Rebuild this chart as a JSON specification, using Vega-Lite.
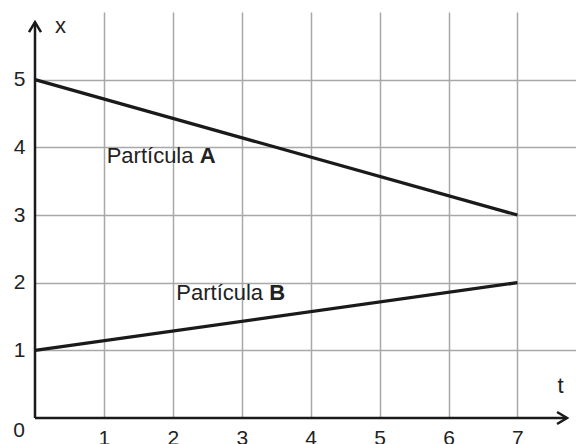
{
  "$schema": "https://vega.github.io/schema/vega-lite/v6.json",
  "width": 541,
  "height": 406,
  "autosize": {"type": "none"},
  "padding": {"left": 35, "top": 12, "right": 0, "bottom": 26},
  "background": "white",
  "config": {
    "view": {"stroke": null},
    "font": "Liberation Sans",
    "axis": {"labelFont": "Liberation Sans"}
  },
  "datasets": {
    "lines": [
      {"particula": "A", "t": 0, "x": 5},
      {"particula": "A", "t": 7, "x": 3},
      {"particula": "B", "t": 0, "x": 1},
      {"particula": "B", "t": 7, "x": 2}
    ],
    "labels": [
      {"particula": "A", "text": "Partícula", "t": 1.04, "x": 3.77},
      {"particula": "B", "text": "Partícula", "t": 2.05, "x": 1.74}
    ],
    "axislines": [
      {"axis": "x", "t0": 0, "x0": 0, "t1": 7.72, "x1": 0},
      {"axis": "y", "t0": 0, "x0": 0, "t1": 0, "x1": 5.85}
    ],
    "titles": [
      {"name": "x", "t": 0.29, "x": 5.69},
      {"name": "t", "t": 7.58, "x": 0.37}
    ],
    "origin": [
      {"label": "0", "t": 0, "x": 0}
    ]
  },
  "layer": [
    {
      "data": {"name": "lines"},
      "mark": {"type": "line", "color": "#1a1a1a", "strokeWidth": 3.3},
      "encoding": {
        "x": {
          "field": "t", "type": "quantitative",
          "scale": {"domain": [0, 7.85], "nice": false, "zero": false},
          "axis": {
            "values": [1, 2, 3, 4, 5, 6, 7], "format": "d",
            "title": null, "domain": false, "ticks": false, "labelFlush": false,
            "labelPadding": 9, "labelFontSize": 21, "labelColor": "#222222",
            "grid": true, "gridColor": "#a8a8a8", "gridWidth": 1.5
          }
        },
        "y": {
          "field": "x", "type": "quantitative",
          "scale": {"domain": [0, 6], "nice": false, "zero": false},
          "axis": {
            "values": [1, 2, 3, 4, 5], "format": "d",
            "title": null, "domain": false, "ticks": false, "labelFlush": false,
            "labelPadding": 10, "labelFontSize": 21, "labelColor": "#222222",
            "grid": true, "gridColor": "#a8a8a8", "gridWidth": 1.5
          }
        },
        "detail": {"field": "particula"}
      }
    },
    {
      "data": {"name": "axislines"},
      "mark": {"type": "rule", "color": "#1a1a1a", "strokeWidth": 2.5},
      "encoding": {
        "x": {"field": "t0", "type": "quantitative"},
        "y": {"field": "x0", "type": "quantitative"},
        "x2": {"field": "t1"},
        "y2": {"field": "x1"}
      }
    },
    {
      "data": {"name": "axislines"},
      "transform": [{"filter": "datum.axis === 'y'"}],
      "mark": {"type": "point", "shape": "M-0.6,1L0,0L0.6,1", "filled": false, "stroke": "#1a1a1a", "strokeWidth": 2.5, "size": 400, "opacity": 1},
      "encoding": {
        "x": {"field": "t1", "type": "quantitative"},
        "y": {"field": "x1", "type": "quantitative"}
      }
    },
    {
      "data": {"name": "axislines"},
      "transform": [{"filter": "datum.axis === 'x'"}],
      "mark": {"type": "point", "shape": "M-1,-0.6L0,0L-1,0.6", "filled": false, "stroke": "#1a1a1a", "strokeWidth": 2.5, "size": 400, "opacity": 1},
      "encoding": {
        "x": {"field": "t1", "type": "quantitative"},
        "y": {"field": "x1", "type": "quantitative"}
      }
    },
    {
      "data": {"name": "origin"},
      "mark": {"type": "text", "align": "right", "baseline": "top", "fontSize": 21, "color": "#222222", "dx": -10, "dy": 2},
      "encoding": {
        "x": {"field": "t", "type": "quantitative"},
        "y": {"field": "x", "type": "quantitative"},
        "text": {"field": "label"}
      }
    },
    {
      "data": {"name": "labels"},
      "mark": {"type": "text", "align": "left", "baseline": "alphabetic", "fontSize": 22, "color": "#222222"},
      "encoding": {
        "x": {"field": "t", "type": "quantitative"},
        "y": {"field": "x", "type": "quantitative"},
        "text": {"field": "text"}
      }
    },
    {
      "data": {"name": "labels"},
      "mark": {"type": "text", "align": "left", "baseline": "alphabetic", "fontSize": 22, "fontWeight": "bold", "color": "#222222", "dx": 93},
      "encoding": {
        "x": {"field": "t", "type": "quantitative"},
        "y": {"field": "x", "type": "quantitative"},
        "text": {"field": "particula"}
      }
    },
    {
      "data": {"name": "titles"},
      "mark": {"type": "text", "align": "left", "baseline": "alphabetic", "fontSize": 22, "color": "#222222"},
      "encoding": {
        "x": {"field": "t", "type": "quantitative"},
        "y": {"field": "x", "type": "quantitative"},
        "text": {"field": "name"}
      }
    }
  ]
}
